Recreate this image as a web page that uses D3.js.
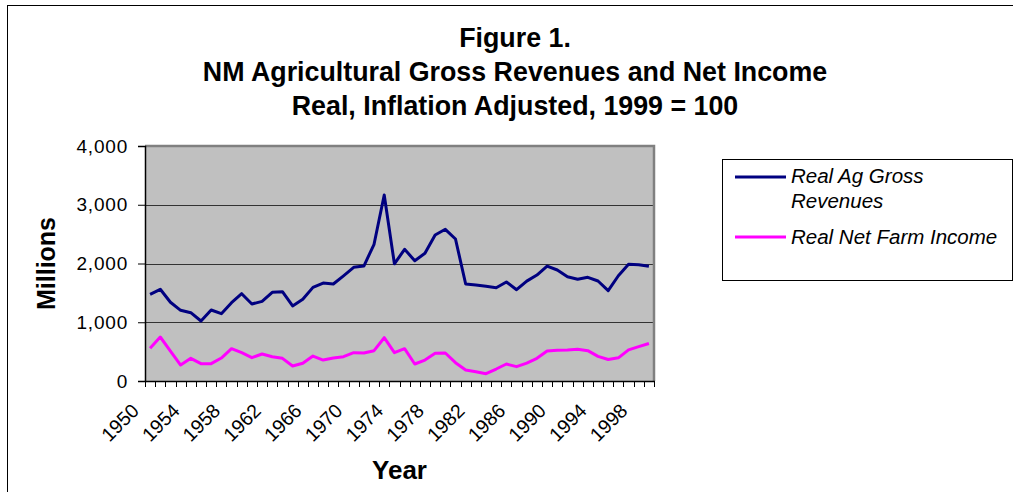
<!DOCTYPE html>
<html>
<head>
<meta charset="utf-8">
<script src="https://cdn.jsdelivr.net/npm/d3@7"></script>
<style>
  html, body { margin: 0; padding: 0; background: #fff; }
  svg { display: block; }
  text { font-family: "Liberation Sans", Arial, sans-serif; fill: #000; }
</style>
</head>
<body>
<svg id="chart" width="1013" height="492"></svg>
<script>
const years = [1950,1951,1952,1953,1954,1955,1956,1957,1958,1959,
               1960,1961,1962,1963,1964,1965,1966,1967,1968,1969,
               1970,1971,1972,1973,1974,1975,1976,1977,1978,1979,
               1980,1981,1982,1983,1984,1985,1986,1987,1988,1989,
               1990,1991,1992,1993,1994,1995,1996,1997,1998,1999];
const grossRevenues = [1476,1561,1340,1203,1163,1021,1209,1146,1333,1486,
                       1311,1356,1510,1520,1277,1390,1594,1668,1651,1790,
                       1935,1957,2327,3166,1995,2241,2048,2173,2485,2582,
                       2417,1651,1634,1611,1588,1685,1554,1700,1804,1957,
                       1889,1775,1731,1765,1702,1537,1792,1986,1980,1952];
const netFarmIncome = [556,749,510,272,386,295,295,391,550,482,
                       397,460,414,386,255,301,425,357,391,414,
                       482,477,516,737,482,550,289,357,471,477,
                       312,187,159,125,204,289,244,305,386,510,
                       522,528,539,516,420,366,394,530,584,638];
const xTickLabels = [1950,1954,1958,1962,1966,1970,1974,1978,1982,1986,1990,1994,1998];
const yTicks = [0,1000,2000,3000,4000];
const seriesNames = ["Real Ag Gross Revenues", "Real Net Farm Income"];
const seriesColors = ["#000080", "#FF00FF"];

const svg = d3.select("#chart");
const plot = {left: 145, right: 654, top: 146, bottom: 381};

// outer frame
svg.append("rect").attr("x", 7.5).attr("y", 5.5).attr("width", 1030).attr("height", 520)
  .attr("fill", "#fff").attr("stroke", "#000").attr("stroke-width", 1);

const x = d3.scaleBand().domain(years).range([plot.left, plot.right]).padding(0);
const y = d3.scaleLinear().domain([0, 4000]).range([plot.bottom, plot.top]);
const cx = d => x(d) + x.bandwidth() / 2;

// plot area
svg.append("rect").attr("x", plot.left).attr("y", plot.top)
  .attr("width", plot.right - plot.left).attr("height", plot.bottom - plot.top)
  .attr("fill", "#C0C0C0");

// gridlines
svg.append("g").selectAll("line").data(yTicks.filter(t => t > 0 && t < 4000)).join("line")
  .attr("x1", plot.left).attr("x2", plot.right)
  .attr("y1", d => Math.round(y(d)) + 0.5).attr("y2", d => Math.round(y(d)) + 0.5)
  .attr("stroke", "#333").attr("stroke-width", 1);

// top & right border (grey)
svg.append("path")
  .attr("d", `M${plot.left},${plot.top} H${plot.right} V${plot.bottom}`)
  .attr("fill", "none").attr("stroke", "#808080").attr("stroke-width", 2.5);

// y axis
const yAxis = d3.axisLeft(y).tickValues(yTicks).tickFormat(d3.format(",")).tickSize(7).tickPadding(10);
const gy = svg.append("g").attr("transform", `translate(${plot.left},0)`).call(yAxis);
gy.select(".domain").attr("stroke", "#000").attr("stroke-width", 1.5);
gy.selectAll(".tick line").attr("stroke", "#000");
gy.selectAll(".tick text").style("font-size", "19px").style("letter-spacing", "0.8px")
  .attr("font-family", null);

// x axis
const boundaries = years.map(d => x(d)).concat([plot.right]);
const gx = svg.append("g");
gx.append("line").attr("x1", plot.left).attr("x2", plot.right + 1)
  .attr("y1", plot.bottom + 0.5).attr("y2", plot.bottom + 0.5)
  .attr("stroke", "#000").attr("stroke-width", 1.5);
gx.selectAll("line.tk").data(boundaries).join("line").attr("class", "tk")
  .attr("x1", d => Math.round(d) + 0.5).attr("x2", d => Math.round(d) + 0.5)
  .attr("y1", plot.bottom).attr("y2", plot.bottom + 6)
  .attr("stroke", "#000").attr("stroke-width", 1);
gx.selectAll("text").data(xTickLabels).join("text")
  .attr("transform", d => `translate(${cx(d) - 10},${plot.bottom + 31}) rotate(-45)`)
  .attr("text-anchor", "end")
  .style("font-size", "19.5px")
  .text(d => d);

// lines
const line = d3.line().x((d, i) => cx(years[i])).y(d => y(d));
[grossRevenues, netFarmIncome].forEach((s, k) => {
  svg.append("path").datum(s).attr("d", line)
    .attr("fill", "none").attr("stroke", seriesColors[k]).attr("stroke-width", 3)
    .attr("stroke-linejoin", "round");
});

// titles
const titleLines = ["Figure 1.", "NM Agricultural Gross Revenues and Net Income", "Real, Inflation Adjusted, 1999 = 100"];
svg.append("g").selectAll("text").data(titleLines).join("text")
  .attr("x", 515).attr("y", (d, i) => 47 + i * 34)
  .attr("text-anchor", "middle").style("font-size", "26.8px").style("font-weight", "bold")
  .text(d => d);

svg.append("text").attr("transform", `translate(55,${(plot.top + plot.bottom) / 2}) rotate(-90)`)
  .attr("text-anchor", "middle").style("font-size", "25px").style("font-weight", "bold")
  .text("Millions");

svg.append("text").attr("x", (plot.left + plot.right) / 2).attr("y", 479)
  .attr("text-anchor", "middle").style("font-size", "26px").style("font-weight", "bold")
  .text("Year");

// legend
const lg = svg.append("g");
lg.append("rect").attr("x", 722.5).attr("y", 159.5).attr("width", 290).attr("height", 121)
  .attr("fill", "#fff").attr("stroke", "#000").attr("stroke-width", 1);
const legendRows = [
  {lines: ["Real Ag Gross", "Revenues"], y: 177, base: 183},
  {lines: ["Real Net Farm Income"], y: 237, base: 244}
];
legendRows.forEach((r, k) => {
  lg.append("line").attr("x1", 735).attr("x2", 786).attr("y1", r.y).attr("y2", r.y)
    .attr("stroke", seriesColors[k]).attr("stroke-width", 3);
  r.lines.forEach((t, j) => {
    lg.append("text").attr("x", 791).attr("y", r.base + j * 25)
      .style("font-size", "20.5px").style("font-style", "italic").text(t);
  });
});
</script>
</body>
</html>
